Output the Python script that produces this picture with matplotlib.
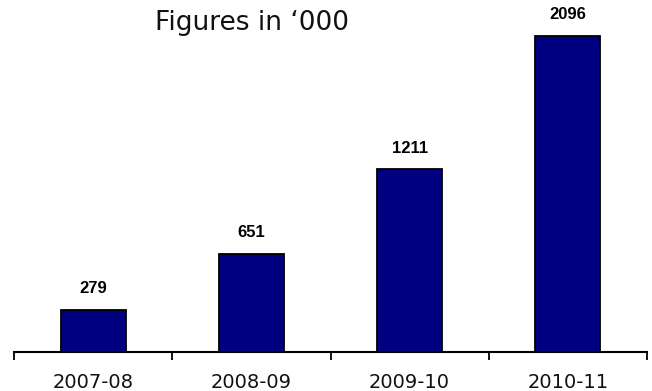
import matplotlib
matplotlib.use("Agg")
import matplotlib.pyplot as plt
from matplotlib.ticker import FixedLocator

years = ["2007-08", "2008-09", "2009-10", "2010-11"]
values = [279, 651, 1211, 2096]

fig = plt.figure(figsize=(6.52, 3.91), dpi=100)
ax = fig.add_axes([14 / 652, 39 / 391, 633 / 652, 352 / 391])

x = range(len(years))
ax.bar(x, values, width=0.41, color="#000080", edgecolor="black", linewidth=1.3, zorder=3)

for xi, v in zip(x, values):
    ax.annotate(str(v), (xi, v), xytext=(0, 12), textcoords="offset points",
                ha="center", va="baseline", fontsize=12, fontweight="bold",
                family="Liberation Sans", color="black")

ax.set_xlim(-0.5, len(years) - 0.5)
ax.set_ylim(0, 2334)

for s in ["top", "right", "left"]:
    ax.spines[s].set_visible(False)
ax.spines["bottom"].set_linewidth(1.5)
ax.set_yticks([])

ax.set_xticks(list(x))
ax.set_xticklabels(years, fontsize=14, family="DejaVu Sans", color="#111111")
ax.tick_params(axis="x", which="major", length=0, pad=15)
ax.xaxis.set_minor_locator(FixedLocator([i - 0.5 for i in range(len(years) + 1)]))
ax.tick_params(axis="x", which="minor", direction="out", length=6, width=1.3)

fig.text(0.387, 0.94, "Figures in \u2018000", ha="center", va="center",
         fontsize=19, family="DejaVu Sans", color="#111111")

fig.savefig("out.png", dpi=100)
